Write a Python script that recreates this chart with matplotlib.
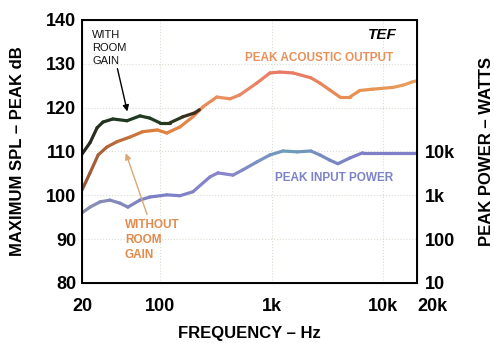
import numpy as np
import matplotlib.pyplot as plt
from matplotlib.collections import LineCollection
from matplotlib.colors import LinearSegmentedColormap

# curves (Hz, dB SPL)
freq_acoustic = [20, 23.6, 27.9, 33.4, 41, 54, 70, 94.5, 115, 151, 197, 243, 322, 424, 519,
                 736, 965, 1185, 1550, 2240, 2700, 3320, 4080, 5010, 6160, 8050, 12160, 14960,
                 18400, 20000]
spl_acoustic = [101.2, 105.1, 109.2, 111, 112.2, 113.3, 114.5, 114.9, 114.2, 115.6, 117.9,
                120.2, 122.4, 122, 122.9, 125.6, 127.9, 128.1, 127.9, 126.8, 125.6, 124, 122.4,
                122.4, 123.9, 124.2, 124.6, 125.1, 125.9, 126.1]

freq_room = [20, 23.6, 27.3, 30.8, 37.8, 50.6, 66, 81, 100, 122, 160, 205, 225]
spl_room = [109.4, 112, 115.4, 116.7, 117.4, 117, 118.1, 117.6, 116.5, 116.5, 117.9, 118.8, 119.5]

freq_input = [20, 23.6, 29, 35.6, 43.7, 51.5, 66, 81, 115, 151, 197, 280, 330, 450, 552, 736,
              965, 1260, 1690, 2240, 2700, 3320, 3920, 5010, 6550, 11450, 20000]
spl_input = [96, 97.3, 98.5, 98.9, 98.2, 97.3, 98.9, 99.6, 100.1, 99.9, 100.8, 104.2, 105.1,
             104.6, 105.8, 107.6, 109.2, 110.1, 109.9, 110.1, 109.2, 108, 107.2, 108.5, 109.7,
             109.7, 109.7]

x_ticks = [20, 100, 1000, 10000, 20000]
x_labels = ['20', '100', '1k', '10k', '20k']
y_ticks = [80, 90, 100, 110, 120, 130, 140]
watt_ticks = [10, 100, 1000, 10000]
watt_labels = ['10', '100', '1k', '10k']

plt.rcParams['font.family'] = ['Liberation Sans', 'DejaVu Sans']


def shaded_line(ax, f, db, colors, lw=2.3):
    # colour drifts along the trace like on the scanned print
    f = np.asarray(f, float)
    db = np.asarray(db, float)
    pts = np.column_stack([f, db]).reshape(-1, 1, 2)
    segs = np.concatenate([pts[:-1], pts[1:]], axis=1)
    cmap = LinearSegmentedColormap.from_list('c', colors)
    t = np.log10(f[:-1] / f[0]) / np.log10(f[-1] / f[0])
    lc = LineCollection(segs, colors=cmap(t), linewidths=lw, capstyle='round',
                        joinstyle='round')
    ax.add_collection(lc)


fig = plt.figure(figsize=(4.94, 3.43), dpi=100)
ax = fig.add_axes([0.166, 0.175, 0.678, 0.767])

ax.set_xscale('log')
ax.set_xlim(20, 20000)
ax.set_ylim(80, 140)

shaded_line(ax, freq_input, spl_input, ['#8a8fb0', '#7b80c6', '#8a84cc', '#6f9cb8', '#7f7ec8', '#7f82c8'])
shaded_line(ax, freq_acoustic, spl_acoustic, ['#9a5a3a', '#e0803a', '#e89060', '#e87868', '#e89050', '#e8a060'])
shaded_line(ax, freq_room, spl_room, ['#2a2a20', '#1e3a22', '#243a20', '#4a2a1a'])

ax.set_xticks(x_ticks)
ax.set_xticklabels(x_labels)
ax.xaxis.set_minor_locator(plt.NullLocator())
ax.set_yticks(y_ticks)
ax.tick_params(length=0, labelsize=13)
ax.tick_params(axis='x', pad=11)
ax.tick_params(axis='y', pad=4)
for lab in ax.get_xticklabels() + ax.get_yticklabels():
    lab.set_fontweight('bold')
ax.get_xticklabels()[-1].set_ha('left')

ax.grid(True, ls=':', lw=0.8, color='#a8b898', alpha=0.45)
for sp in ax.spines.values():
    sp.set_linewidth(1.4)

ax2 = ax.twinx()
ax2.set_yscale('log')
ax2.set_ylim(10, 1e7)
ax2.set_yticks(watt_ticks)
ax2.set_yticklabels(watt_labels, fontweight='bold')
ax2.yaxis.set_minor_locator(plt.NullLocator())
ax2.tick_params(length=0, labelsize=13, pad=6)

ax.set_xlabel('FREQUENCY – Hz', fontsize=12, fontweight='bold', labelpad=8)
ax.set_ylabel('MAXIMUM SPL – PEAK dB', fontsize=12, fontweight='bold', labelpad=15)
ax2.set_ylabel('PEAK POWER – WATTS', fontsize=12, fontweight='bold', labelpad=17)

ax.text(24.6, 137.7, 'WITH\nROOM\nGAIN', fontsize=8, va='top', ha='left',
        linespacing=1.35, color='#111111')
ax.annotate('', xy=(51.6, 118.5), xytext=(41, 129.5),
            arrowprops=dict(arrowstyle='-|>', color='black', lw=1, mutation_scale=9))

ax.text(48.5, 94.5, 'WITHOUT\nROOM\nGAIN', fontsize=8.5, fontweight='bold', va='top',
        ha='left', linespacing=1.3, color='#e28a4c')
ax.annotate('', xy=(48.5, 110.2), xytext=(78, 95),
            arrowprops=dict(arrowstyle='-|>', color='#d9a878', lw=1, mutation_scale=9))

ax.text(575, 131.3, 'PEAK ACOUSTIC OUTPUT', fontsize=8.5, fontweight='bold', va='center',
        ha='left', color='#e8905a')
ax.text(1070, 104, 'PEAK INPUT POWER', fontsize=8.5, fontweight='bold', va='center',
        ha='left', color='#7c82c8')
ax.text(7270, 136.6, 'TEF', fontsize=11, fontweight='bold', style='italic', va='center',
        ha='left', color='black')

fig.savefig('out.png', dpi=100)
